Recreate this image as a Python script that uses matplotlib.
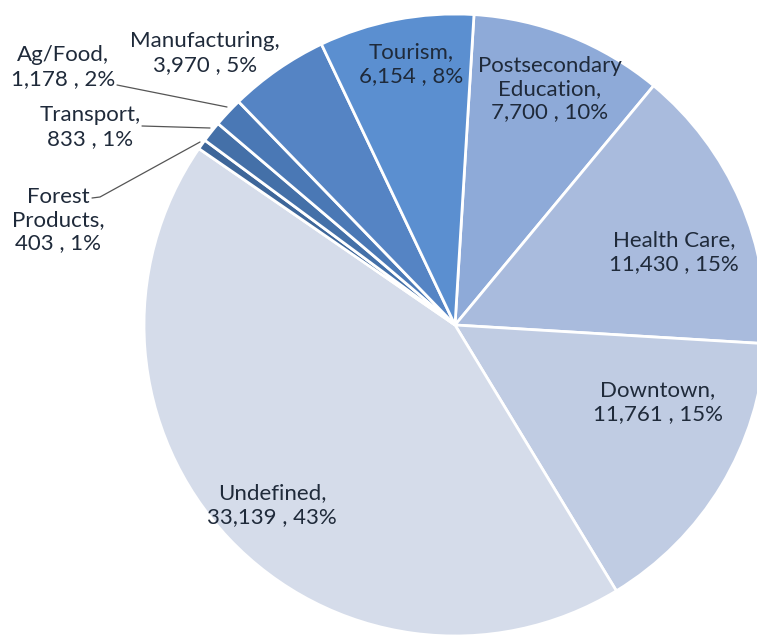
import matplotlib
matplotlib.use("Agg")
import matplotlib.pyplot as plt

categories = ["Postsecondary\nEducation", "Health Care", "Downtown", "Undefined",
              "Forest\nProducts", "Transport", "Ag/Food", "Manufacturing", "Tourism"]
values = [7700, 11430, 11761, 33139, 403, 833, 1178, 3970, 6154]
percents = ["10%", "15%", "15%", "43%", "1%", "1%", "2%", "5%", "8%"]
colors = ["#8eaad8", "#a9bbdd", "#c0cce3", "#d5dcea",
          "#3e6699", "#4470a8", "#4a78b5", "#5584c4", "#5b8fd0"]

W, H = 757, 635
cx, cy, R = 455, 325, 311  # pixel geometry of the pie

fig = plt.figure(figsize=(W / 100, H / 100), dpi=100)
ax = fig.add_axes([0, 0, 1, 1])

wedges, _ = ax.pie(values, colors=colors, startangle=86.5, counterclock=False,
                   radius=1.0, center=(0, 0),
                   wedgeprops=dict(edgecolor="white", linewidth=2))
ax.set_xlim(-cx / R, (W - cx) / R)
ax.set_ylim(-(H - cy) / R, cy / R)
ax.set_aspect("equal")
ax.axis("off")


def px(x, y):
    return ((x - cx) / R, (cy - y) / R)


def label(i):
    return f"{categories[i]},\n{values[i]:,} , {percents[i]}"


font = dict(family=["Lato", "DejaVu Sans"], fontsize=16, color="#1f2a3a",
            ha="center", va="center", linespacing=1.2)

# label positions in pixel coordinates (centre of text block)
pos = {
    0: (550, 89),
    1: (674, 252),
    2: (658, 402),
    3: (272, 505),
    4: (58, 220),
    5: (90, 127),
    6: (63, 67),
    7: (205, 53),
    8: (411, 64),
}
for i, (x, y) in pos.items():
    ax.text(*px(x, y), label(i), **font)

# leader lines for small outside labels
leaders = [
    [(117, 85), (227, 107)],               # Ag/Food
    [(142, 126), (210, 128)],              # Transport
    [(92, 198), (100, 197), (200, 142)],   # Forest
]
for pts in leaders:
    xs, ys = zip(*[px(x, y) for x, y in pts])
    ax.plot(xs, ys, color="#555555", lw=0.9, solid_capstyle="round")

fig.savefig("out.png", dpi=100, facecolor="white")
